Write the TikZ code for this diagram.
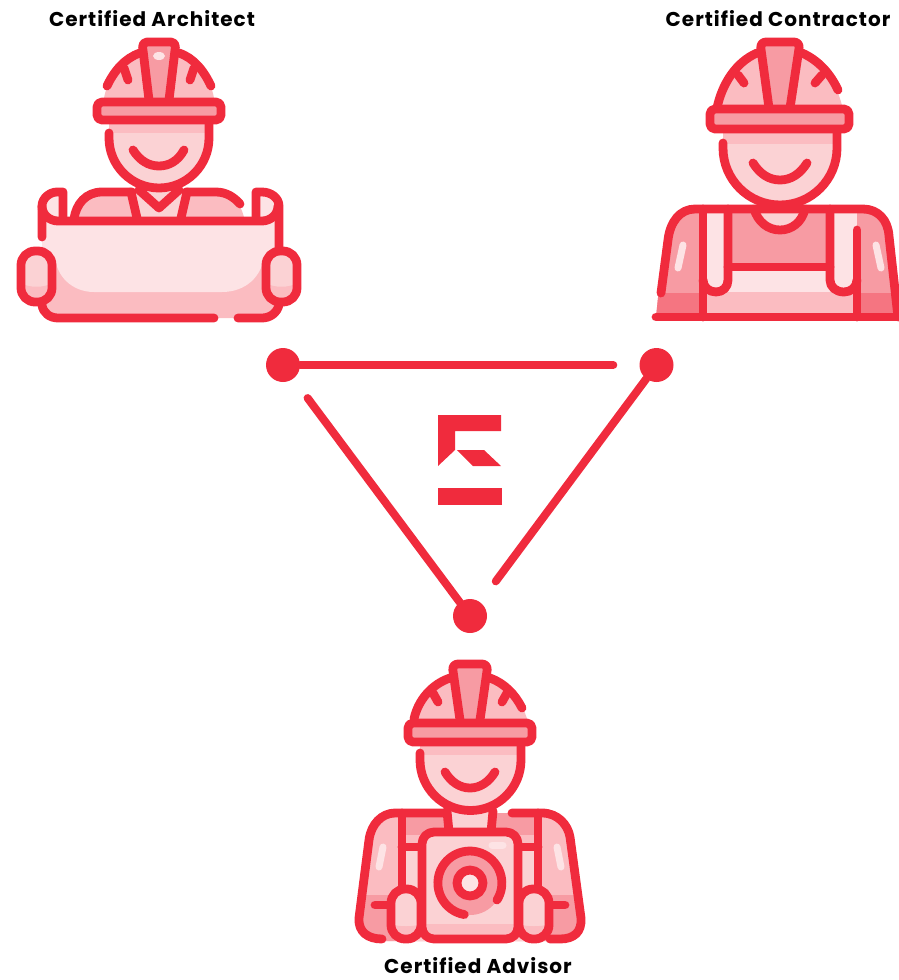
\documentclass[tikz,border=0pt]{standalone}
\usepackage{fontspec}
\setmainfont[LetterSpace=5]{Poppins}
\definecolor{rd}{HTML}{F02B3D}
\definecolor{lA}{HTML}{FDE3E5}
\definecolor{lB}{HTML}{FBD2D4}
\definecolor{lC}{HTML}{FBBCC1}
\definecolor{lD}{HTML}{F79BA3}
\definecolor{lE}{HTML}{F57581}
\tikzset{
 ln/.style={draw=rd,line width=8.8pt,line cap=round,line join=round},
 thinln/.style={draw=rd,line width=8pt,line cap=round},
 glow/.style={draw=lA,line width=7pt,line cap=round},
 bigdot/.style={circle,fill=rd,inner sep=0pt,minimum size=34pt},
 lbl/.style={font=\bfseries\fontsize{20}{22}\selectfont,text=black,inner sep=0pt,anchor=center}
}
\begin{document}
\begin{tikzpicture}[x=1pt,y=-1pt]
\useasboundingbox (0,0) rectangle (898,980);
\node[lbl] (tA) at (152,19) {Certified Architect};
\node[lbl] (tB) at (778,19) {Certified Contractor};
\node[lbl] (tC) at (478,966) {Certified Advisor};
% ---------- connectors
\node[bigdot] (a) at (283,365) {};
\node[bigdot] (b) at (656.5,365) {};
\node[bigdot] (c) at (470,616) {};
\draw[thinln,shorten >=26pt] (a) -- (b);
\draw[thinln,shorten >=26pt] (b) -- (c);
\draw[thinln,shorten <=24pt] (a) -- (c);
% ---------- logo
\fill[rd] (438,415) -- (501,415) -- (501,431) -- (455,431) -- (455,450) -- (438,466) -- cycle;
\fill[rd] (457,450) -- (484,450) -- (501,466) -- (473,466) -- cycle;
\fill[rd] (438,488) rectangle (502,505);
% ---------- ARCHITECT
% shoulders
\fill[lC] (72,222) .. controls (74,204) and (86,192) .. (102,192) -- (218,192) .. controls (232,192) and (242,204) .. (245,222) -- cycle;
\fill[lB] (133,192) -- (185,192) -- (180,222) -- (138,222) -- cycle;
% scroll curls
\fill[lA] (62,194) .. controls (50,194) and (42,200) .. (42,208) .. controls (42,214) and (50,220) .. (62,220) -- cycle;
\fill[lA] (256,194) .. controls (268,194) and (277,200) .. (277,208) .. controls (277,214) and (268,220) .. (256,220) -- cycle;
% scroll body
\fill[lC] (42,221) -- (278,221) -- (278,306) .. controls (278,314) and (270,318) .. (262,318) -- (58,318) .. controls (50,318) and (42,314) .. (42,306) -- cycle;
\fill[lA] (42,221) -- (278,221) -- (278,256) -- (264,256) .. controls (262,276) and (246,292) .. (222,292) -- (94,292) .. controls (72,292) and (56,276) .. (55,256) -- (42,256) -- cycle;
% hat and head
\begin{scope}
\clip (109,120) -- (209,120) -- (209,138) arc[start angle=0,end angle=180,radius=50] -- cycle;
\fill[lB] (100,110) rectangle (220,195);
\fill[lC] (100,110) rectangle (220,133);
\end{scope}
\fill[lC] (104,98) .. controls (108,76) and (124,58) .. (144,52) -- (176,52) .. controls (196,58) and (210,76) .. (214,98) -- cycle;
\fill[lD] (142,46) -- (176,46) -- (169,100) -- (149,100) -- cycle;
\fill[lA] (159,56) ellipse[x radius=6,y radius=4];
\draw[ln] (107,86) .. controls (114,71) and (125,58) .. (140,53);
\draw[ln] (179,53) .. controls (194,58) and (204,71) .. (211,86);
\draw[ln] (124,68) -- (128,80);
\draw[ln] (194,68) -- (190,80);
\draw[ln,rounded corners=5pt] (149,100) -- (142,42) -- (176,42) -- (169,100);
\draw[ln,fill=lD,rounded corners=5pt] (97,102) rectangle (221,120);
\draw[ln] (209,122) -- (209,138) arc[start angle=0,end angle=180,radius=50] -- (109,133);
\draw[ln] (133,150) .. controls (140,161) and (149,166) .. (159,166) .. controls (169,166) and (178,161) .. (184,150);
% shoulders lines
\draw[ln] (74,219) .. controls (76,204) and (86,192) .. (102,192) -- (132,192);
\draw[ln] (186,192) -- (216,192) .. controls (226,192) and (234,197) .. (240,204);
\draw[ln] (131,192) -- (137,218);
\draw[ln] (187,192) -- (181,218);
\draw[ln] (139,190) -- (159,208) -- (179,190);
% scroll lines
\draw[ln] (42,237) -- (42,206) .. controls (42,198) and (50,192) .. (57,192) -- (63,192) -- (63,218);
\draw[ln] (42,206) .. controls (42,215) and (50,221) .. (58,221) -- (262,221) .. controls (270,221) and (278,215) .. (278,206);
\draw[ln] (256,218) -- (256,192) -- (262,192) .. controls (271,192) and (279,198) .. (279,206) -- (279,250);
\draw[ln] (42,305) .. controls (43,313) and (50,318) .. (58,318) -- (214,318);
\draw[ln] (238,318) -- (262,318) .. controls (270,318) and (277,313) .. (279,305);
% hands
\begin{scope}
\clip[rounded corners=14pt] (21,251) rectangle (52,302);
\fill[lB] (21,251) rectangle (52,302);
\fill[lC] (21,283) .. controls (28,288) and (45,288) .. (52,283) -- (52,302) -- (21,302) -- cycle;
\end{scope}
\draw[ln,rounded corners=14pt] (21,251) rectangle (52,302);
\begin{scope}
\clip[rounded corners=14pt] (266,251) rectangle (297,302);
\fill[lB] (266,251) rectangle (297,302);
\fill[lC] (266,283) .. controls (273,288) and (290,288) .. (297,283) -- (297,302) -- (266,302) -- cycle;
\end{scope}
\draw[ln,rounded corners=14pt] (266,251) rectangle (297,302);
% ---------- CONTRACTOR
\begin{scope}
\clip (656,317) -- (664,240) .. controls (668,222) and (680,209) .. (695,209) -- (863,209) .. controls (878,209) and (888,220) .. (890,236) -- (898,317) -- cycle;
\fill[lD] (650,205) rectangle (898,320);
\fill[lE] (650,293) rectangle (703,320);
\fill[lE] (857,293) rectangle (898,320);
\fill[lA] (703,209) rectangle (728,292);
\fill[lA] (830,209) rectangle (857,292);
\fill[lA] (728,267) rectangle (830,292);
\fill[lC] (703,292) rectangle (857,320);
\end{scope}
\begin{scope}
\clip (723,131) -- (837,131) -- (837,148) arc[start angle=0,end angle=180,radius=57] -- cycle;
\fill[lB] (720,125) rectangle (840,210);
\fill[lC] (720,125) rectangle (840,144);
\end{scope}
\fill[lB] (754,207) -- (805,207) -- (805,210) .. controls (800,222) and (792,230) .. (780,230) .. controls (768,230) and (760,222) .. (754,210) -- cycle;
\fill[lC] (714,110) .. controls (720,84) and (736,62) .. (757,53) -- (802,53) .. controls (822,62) and (838,84) .. (843,110) -- cycle;
\fill[lD] (762,46) -- (797,46) -- (790,108) -- (769,108) -- cycle;
\draw[ln] (717,108) .. controls (722,84) and (736,62) .. (757,53);
\draw[ln] (802,53) .. controls (818,60) and (830,73) .. (838,90);
\draw[ln] (738,75) -- (744,83);
\draw[ln] (822,75) -- (815,83);
\draw[ln,rounded corners=6pt] (769,108) -- (760,42) -- (800,42) -- (790,108);
\draw[ln,fill=lD,rounded corners=5pt] (710,109) rectangle (849,129);
\draw[ln] (837,131) -- (837,148) arc[start angle=0,end angle=180,radius=57] -- (723,143);
\draw[ln] (753,163) .. controls (760,174) and (769,180) .. (780,180) .. controls (791,180) and (800,174) .. (807,163);
% body lines
\draw[ln] (661,293) -- (668,240) .. controls (670,222) and (680,209) .. (695,209) -- (863,209) .. controls (878,209) and (888,220) .. (889,236) -- (898,317);
\draw[ln] (754,209) .. controls (758,222) and (768,230) .. (780,230) .. controls (792,230) and (802,222) .. (805,209);
\draw[ln] (656,317) -- (898,317);
\draw[ln] (703,209) -- (703,317);
\draw[ln] (703,280) .. controls (703,287) and (709,292) .. (716,292) .. controls (723,292) and (728,287) .. (728,280) -- (728,209);
\draw[ln] (830,209) -- (830,280) .. controls (830,287) and (836,292) .. (844,292) .. controls (851,292) and (857,287) .. (857,280);
\draw[ln] (857,230) -- (857,317);
\draw[ln] (728,267) -- (830,267);
\draw[glow] (683,245) -- (678,268);
\draw[glow] (876,245) -- (881,268);
% ---------- ADVISOR
\begin{scope}
\clip (382,941) .. controls (368,941) and (358,932) .. (359,918) -- (369,840) .. controls (371,824) and (382,813) .. (395,813) -- (542,813) .. controls (558,813) and (568,825) .. (570,837) -- (581,918) .. controls (582,932) and (574,941) .. (560,941) -- cycle;
\fill[lC] (350,805) rectangle (590,945);
\fill[lD] (350,895) rectangle (590,945);
\fill[lD] (402,813) rectangle (538,835);
\fill[lB] (402,845) rectangle (538,945);
\end{scope}
\fill[lB] (449,805) rectangle (492,835);
\begin{scope}
\clip (420,746) -- (521,746) -- (521,760) arc[start angle=0,end angle=180,radius=50.5] -- cycle;
\fill[lB] (415,740) rectangle (525,815);
\fill[lC] (415,740) rectangle (525,755);
\end{scope}
\fill[lC] (410,722) .. controls (418,700) and (432,684) .. (450,678) -- (490,678) .. controls (508,684) and (522,700) .. (528,722) -- cycle;
\fill[lD] (455,666) -- (485,666) -- (480,722) -- (460,722) -- cycle;
\draw[ln] (414,719) .. controls (418,700) and (432,684) .. (450,678);
\draw[ln] (490,678) .. controls (504,683) and (515,694) .. (522,708);
\draw[ln] (433,693) -- (438,702);
\draw[ln] (507,693) -- (502,702);
\draw[ln,rounded corners=6pt] (460,720) -- (452,664) -- (488,664) -- (480,720);
\draw[ln,fill=lD,rounded corners=5pt] (408,723) rectangle (532,742);
\draw[ln] (521,744) -- (521,760) arc[start angle=0,end angle=180,radius=50.5] -- (420,753);
\draw[ln] (445,772) .. controls (451,782) and (460,788) .. (470,788) .. controls (480,788) and (489,782) .. (495,772);
\draw[ln] (447,811) -- (449,832);
\draw[ln] (493,811) -- (491,832);
\draw[ln] (382,939) .. controls (368,939) and (358,932) .. (359,918) -- (369,840) .. controls (371,824) and (382,813) .. (395,813) -- (445,813);
\draw[ln] (512,813) -- (542,813) .. controls (558,813) and (568,825) .. (570,837) -- (581,918) .. controls (582,932) and (574,939) .. (560,939) -- (550,939);
\draw[ln] (402,813) -- (402,888);
\draw[ln] (538,813) -- (538,888);
\draw[ln] (402,847) -- (420,847);
\draw[ln] (520,847) -- (538,847);
\draw[ln] (375,905) -- (390,905);
\draw[ln] (552,905) -- (565,905);
\draw[glow] (383,847) -- (379,867);
\draw[glow] (557,847) -- (561,867);
% hands
\begin{scope}
\clip[rounded corners=14pt] (391,889) rectangle (421,939);
\fill[lB] (391,889) rectangle (421,939);
\fill[lC] (391,924) .. controls (398,927) and (414,927) .. (421,924) -- (421,939) -- (391,939) -- cycle;
\end{scope}
\draw[ln,rounded corners=14pt] (391,889) rectangle (421,939);
\begin{scope}
\clip[rounded corners=14pt] (519,889) rectangle (549,939);
\fill[lB] (519,889) rectangle (549,939);
\fill[lC] (519,924) .. controls (526,927) and (542,927) .. (549,924) -- (549,939) -- (519,939) -- cycle;
\end{scope}
\draw[ln,rounded corners=14pt] (519,889) rectangle (549,939);
% camera
\begin{scope}
\clip[rounded corners=12pt] (422,832) rectangle (518,939);
\fill[lB] (422,832) rectangle (518,939);
\fill[lC] (422,924) rectangle (518,939);
\end{scope}
\draw[ln,rounded corners=12pt] (422,832) rectangle (518,939);
\draw[glow] (492,845) -- (503,845);
\fill[lD] (470,883) circle[radius=32];
\draw[ln] (497,900) arc[start angle=32,end angle=-260,radius=32];
\draw[ln,fill=lA] (470,883) circle[radius=13];
\end{tikzpicture}
\end{document}
